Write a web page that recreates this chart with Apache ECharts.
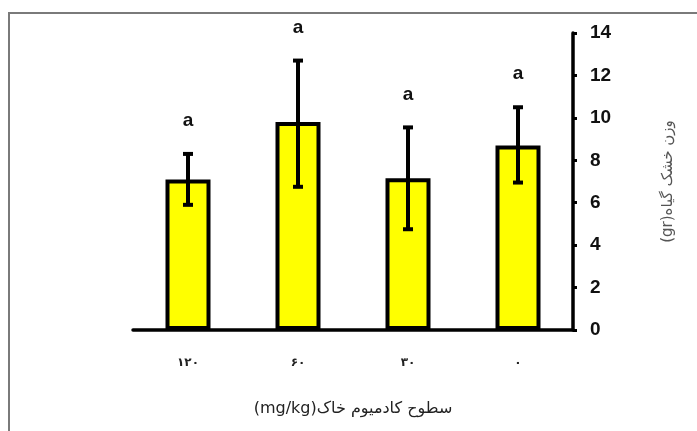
<!DOCTYPE html>
<html><head><meta charset="utf-8">
<script src="https://cdn.jsdelivr.net/npm/echarts@6/dist/echarts.min.js"></script>
<style>html,body{margin:0;padding:0;background:#fff}#c{width:697px;height:431px}</style>
</head><body><div id="c"></div>
<script>
var categories = ['۱۲۰', '۶۰', '۳۰', '۰'];
var means = [7.1, 9.8, 7.15, 8.7];
var errLow = [5.9, 6.75, 4.75, 6.95];
var errHigh = [8.3, 12.7, 9.55, 10.5];
var letters = ['a', 'a', 'a', 'a'];
var yTicks = {min: 0, max: 14, interval: 2};
var xTitle = '(mg/kg)سطوح کادمیوم خاک';
var yTitle = '(gr)وزن خشک گیاه';

var chart = echarts.init(document.getElementById('c'));
var errData = categories.map(function (c, i) { return [i, errLow[i], errHigh[i], letters[i]]; });
chart.setOption({
  animation: false,
  backgroundColor: '#fff',
  graphic: [{
    type: 'rect', shape: {x: 9, y: 13, width: 700, height: 430},
    style: {fill: 'none', stroke: '#7a7a7a', lineWidth: 2}, silent: true
  }],
  grid: {left: 133, right: 124, top: 33, bottom: 101},
  xAxis: {
    type: 'category', data: categories,
    axisLine: {lineStyle: {color: '#000', width: 3.5}},
    axisTick: {show: false},
    axisLabel: {color: '#222', fontSize: 12, fontWeight: 'bold', fontFamily: 'DejaVu Sans', margin: 27},
    name: xTitle, nameLocation: 'middle', nameGap: 71,
    nameTextStyle: {color: '#222', fontSize: 16, fontFamily: 'DejaVu Sans'}
  },
  yAxis: {
    type: 'value', position: 'right', min: yTicks.min, max: yTicks.max, interval: yTicks.interval,
    axisLine: {show: true, lineStyle: {color: '#000', width: 3.5}},
    axisTick: {show: true, inside: false, length: 4, lineStyle: {color: '#000', width: 3}},
    splitLine: {show: false},
    axisLabel: {color: '#111', fontSize: 19, fontWeight: 'bold', fontFamily: 'Liberation Sans', margin: 17},
    name: yTitle, nameLocation: 'middle', nameGap: 88, nameRotate: 90,
    nameTextStyle: {color: '#555', fontSize: 15, fontFamily: 'DejaVu Sans'}
  },
  series: [{
    type: 'bar', data: means, barWidth: 45,
    itemStyle: {color: '#ffff00', borderColor: '#000', borderWidth: 4}
  }, {
    type: 'custom', data: errData, z: 10,
    renderItem: function (params, api) {
      var x = api.value(0);
      var lo = api.coord([x, api.value(1)]);
      var hi = api.coord([x, api.value(2)]);
      var cw = 5;
      return {
        type: 'group', children: [
          {type: 'line', shape: {x1: lo[0], y1: lo[1], x2: hi[0], y2: hi[1]}, style: {stroke: '#000', lineWidth: 4}},
          {type: 'line', shape: {x1: lo[0] - cw, y1: lo[1], x2: lo[0] + cw, y2: lo[1]}, style: {stroke: '#000', lineWidth: 4}},
          {type: 'line', shape: {x1: hi[0] - cw, y1: hi[1], x2: hi[0] + cw, y2: hi[1]}, style: {stroke: '#000', lineWidth: 4}},
          {type: 'text', x: hi[0], y: hi[1] - 33, style: {text: api.value(3), fill: '#111', font: 'bold 19px "Liberation Sans"', align: 'center', verticalAlign: 'middle'}}
        ]
      };
    }
  }]
});
</script></body></html>
